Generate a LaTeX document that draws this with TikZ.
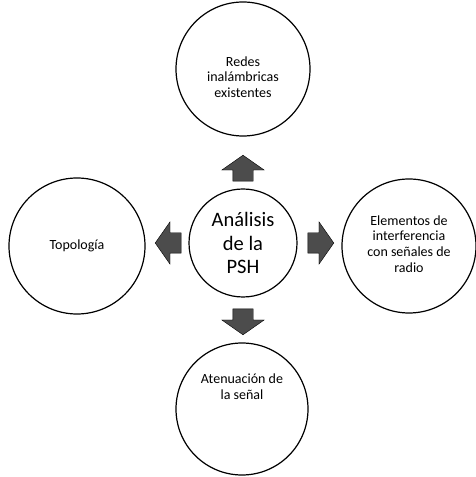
\documentclass[tikz,border=0pt]{standalone}
\usepackage{fontspec}
\setmainfont{Carlito}
\usepackage{tikz}
\usetikzlibrary{shapes}
\usetikzlibrary{shapes.arrows}
\usetikzlibrary{positioning}
\definecolor{arrowFill}{rgb}{0.3,0.3,0.3}
\tikzstyle{bubble} = [circle, draw=black, line width=1.2pt, fill=white, inner sep=0pt]
\tikzstyle{caption} = [align=center, font={\fontsize{14}{15.8}\selectfont}]
\tikzstyle{bigcaption} = [align=center, font={\fontsize{20.5}{23.5}\selectfont}]
\tikzstyle{block} = [single arrow, draw=black, fill=arrowFill, line width=0.4pt,
        inner xsep=0pt, inner ysep=10pt, text height=0pt, text depth=0pt,
        single arrow head extend=11pt, single arrow tip angle=110, minimum height=26pt]

\begin{document}
\begin{tikzpicture}[x=1pt, y=1pt]
                \useasboundingbox (0,0) rectangle (475,477);
                \node [bubble, minimum size=108pt] (psh) at (243,234) {};
                \node [bubble, minimum size=134pt] (redes) at (243,408) {};
                \node [bubble, minimum size=136pt] (topo) at (77,231) {};
                \node [bubble, minimum size=134pt] (elem) at (409,231) {};
                \node [bubble, minimum size=132pt] (aten) at (242,68) {};

                \node [bigcaption] (pshtxt) at (psh) {Análisis\\de la\\PSH};
                \node [caption] (redestxt) at ([yshift=-8pt]redes.center) {Redes\\inalámbricas\\existentes};
                \node [caption] (topotxt) at (topo) {Topología};
                \node [caption] (elemtxt) at ([yshift=2pt]elem.center) {Elementos de\\interferencia\\con señales de\\radio};
                \node [caption] (atentxt) at ([yshift=22pt]aten.center) {Atenuación de\\la señal};

                % block arrows between the circles
                \node [block, rotate=90, above=7pt of psh, anchor=west] (up) {};
                \node [block, rotate=-90, below=11pt of psh, anchor=west] (down) {};
                \node [block, rotate=180, left=7pt of psh, anchor=west] (left) {};
                \node [block, right=10pt of psh, anchor=west] (right) {};
\end{tikzpicture}
\end{document}
